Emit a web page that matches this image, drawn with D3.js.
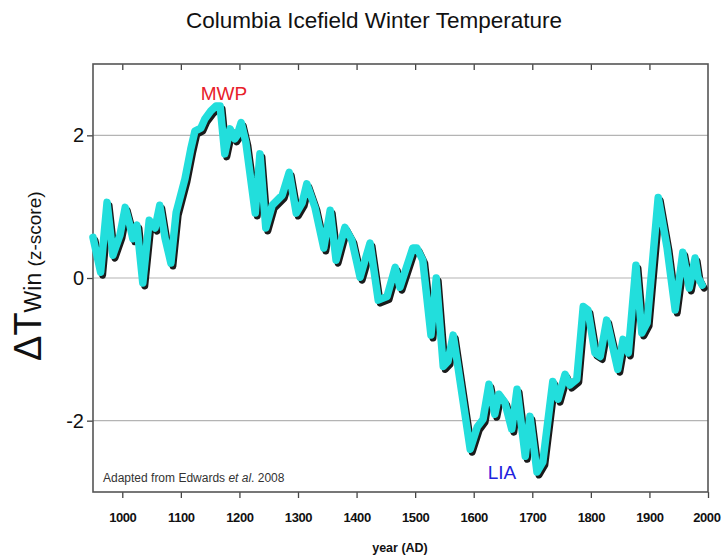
<!DOCTYPE html>
<html>
<head>
<meta charset="utf-8">
<script src="https://cdn.jsdelivr.net/npm/d3@7"></script>
<style>
  html, body { margin: 0; padding: 0; background: #fff; }
  svg { display: block; font-family: "Liberation Sans", Arial, Helvetica, sans-serif; }
</style>
</head>
<body>
<svg id="chart" width="722" height="557"></svg>
<script>
const years = [950, 963, 974, 984, 996, 1005, 1013, 1018, 1025, 1035, 1046, 1056, 1064, 1073, 1083, 1092,
  1107, 1117, 1124, 1134, 1141, 1151, 1160, 1167, 1175, 1184, 1192, 1196, 1203, 1211, 1227, 1235, 1245,
  1256, 1273, 1285, 1297, 1307, 1315, 1329, 1344, 1355, 1365, 1380, 1392, 1406, 1423, 1437, 1452, 1466,
  1474, 1496, 1503, 1513, 1527, 1536, 1548, 1556, 1565, 1594, 1606, 1616, 1626, 1636, 1643, 1653, 1665,
  1674, 1688, 1696, 1708, 1718, 1735, 1744, 1756, 1764, 1776, 1787, 1795, 1807, 1816, 1827, 1846, 1855,
  1864, 1877, 1887, 1896, 1915, 1930, 1944, 1957, 1968, 1978, 1983, 1990];
const zscore = [0.57, 0.08, 1.06, 0.32, 0.6, 0.99, 0.74, 0.55, 0.74, -0.07, 0.81, 0.7, 1.02, 0.56, 0.21, 0.92,
  1.39, 1.81, 2.06, 2.1, 2.23, 2.34, 2.41, 2.41, 1.74, 2.09, 1.95, 2.0, 2.18, 1.9, 0.91, 1.74, 0.7,
  1.02, 1.16, 1.48, 0.91, 1.05, 1.32, 0.99, 0.42, 0.95, 0.25, 0.71, 0.53, 0.01, 0.49, -0.31, -0.26, 0.15,
  -0.13, 0.42, 0.42, 0.25, -0.8, 0.0, -1.24, -1.17, -0.8, -2.4, -2.09, -1.98, -1.49, -1.91, -1.63, -1.74, -2.12,
  -1.56, -2.5, -1.94, -2.72, -2.58, -1.45, -1.7, -1.35, -1.5, -1.42, -0.4, -0.45, -1.05, -1.1, -0.59, -1.28, -0.86,
  -1.05, 0.18, -0.77, -0.63, 1.13, 0.43, -0.45, 0.36, -0.14, 0.28, 0.01, -0.1];
const xTicks = [1000, 1100, 1200, 1300, 1400, 1500, 1600, 1700, 1800, 1900, 2000];
const yTicks = [-2, 0, 2];
const yTickLabels = ["-2", "0", "2"];
const title = "Columbia Icefield Winter Temperature";
const xTitle = "year (AD)";
const note = ["Adapted from Edwards ", "et al", ". 2008"];

const data = years.map((y, i) => ({ year: y, v: zscore[i] }));
const svg = d3.select("#chart");
const L = 93, R = 708, T = 64, B = 492;
const x = d3.scaleLinear().domain([950, 2000]).range([L, R]);
const y = d3.scaleLinear().domain([-3, 3]).range([B, T]);

// gridlines
svg.append("g").selectAll("line").data(yTicks).join("line")
  .attr("x1", L).attr("x2", R).attr("y1", d => y(d)).attr("y2", d => y(d))
  .attr("stroke", "#b4b4b4").attr("stroke-width", 1.2);

// axes
const gB = svg.append("g").attr("transform", `translate(0,${B})`)
  .call(d3.axisBottom(x).tickValues(xTicks).tickSize(6).tickPadding(15).tickFormat(d3.format("d")));
gB.select(".domain").remove();
gB.selectAll("text").attr("font-size", 13).attr("font-weight", "bold").attr("fill", "#111")
  .attr("letter-spacing", -0.4)
  .attr("font-family", "'Liberation Sans', Arial, sans-serif");
gB.selectAll(".tick").filter(d => d === 2000).select("text")
  .attr("text-anchor", "end").attr("x", 12);
gB.selectAll("line").attr("stroke", "#444").attr("stroke-width", 1.3);

const gT = svg.append("g").attr("transform", `translate(0,${T})`)
  .call(d3.axisBottom(x).tickValues(xTicks.filter(d => d < 2000)).tickSize(6).tickFormat(""));
gT.select(".domain").remove();
gT.selectAll("line").attr("stroke", "#444").attr("stroke-width", 1.3);

const gL = svg.append("g").attr("transform", `translate(${L},0)`)
  .call(d3.axisLeft(y).tickValues(yTicks).tickSize(6).tickPadding(3)
    .tickFormat((d, i) => yTickLabels[i]));
gL.select(".domain").remove();
gL.selectAll("text").attr("font-size", 20).attr("fill", "#111")
  .attr("font-family", "'Liberation Sans', Arial, sans-serif");
gL.selectAll("line").attr("stroke", "#444").attr("stroke-width", 1.3);

// frame
svg.append("rect").attr("x", L).attr("y", T).attr("width", R - L).attr("height", B - T)
  .attr("fill", "none").attr("stroke", "#555").attr("stroke-width", 1.6);

// line with shadow
const line = d3.line().x(d => x(d.year)).y(d => y(d.v));
svg.append("path").datum(data).attr("d", line)
  .attr("transform", "translate(2,3)")
  .attr("fill", "none").attr("stroke", "#1a1a1a").attr("stroke-width", 7)
  .attr("stroke-linejoin", "round").attr("stroke-linecap", "round");
svg.append("path").datum(data).attr("d", line)
  .attr("fill", "none").attr("stroke", "#22dedc").attr("stroke-width", 7.5)
  .attr("stroke-linejoin", "round").attr("stroke-linecap", "round");

// title
svg.append("text").attr("x", 374).attr("y", 28).attr("text-anchor", "middle")
  .attr("font-size", 22.5).attr("fill", "#111").text(title);

// x title
svg.append("text").attr("x", 400).attr("y", 552).attr("text-anchor", "middle")
  .attr("font-size", 12.5).attr("font-weight", "bold").attr("fill", "#111").text(xTitle);

// y title
const yt = svg.append("text").attr("transform", "translate(41,361) rotate(-90)").attr("fill", "#111");
yt.append("tspan").attr("font-size", 38).text("ΔT");
yt.append("tspan").attr("font-size", 23).text("Win ");
yt.append("tspan").attr("font-size", 19).text("(z-score)");

// annotations
svg.append("text").attr("x", 224).attr("y", 100).attr("text-anchor", "middle")
  .attr("font-size", 19).attr("fill", "#e8202a").text("MWP");
svg.append("text").attr("x", 502).attr("y", 479).attr("text-anchor", "middle")
  .attr("font-size", 19).attr("fill", "#2222dd").text("LIA");

const nt = svg.append("text").attr("x", 103).attr("y", 482).attr("font-size", 12).attr("fill", "#333");
nt.append("tspan").text(note[0]);
nt.append("tspan").attr("font-style", "italic").text(note[1]);
nt.append("tspan").text(note[2]);
</script>
</body>
</html>
